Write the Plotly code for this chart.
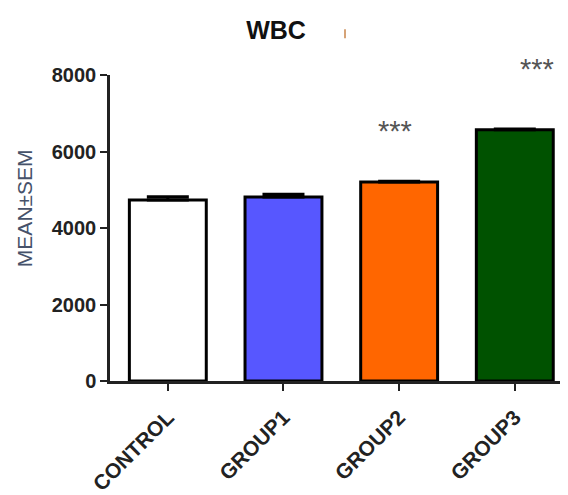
import plotly.graph_objects as go

categories = ["CONTROL", "GROUP1", "GROUP2", "GROUP3"]
means = [4730, 4810, 5200, 6570]
sems = [90, 75, 20, 20]
colors = ["#FFFFFF", "#5757FF", "#FF6600", "#005200"]
sig_labels = ["", "", "***", "***"]
sig_heights = [0, 0, 6545, 8156]
y_ticks = [0, 2000, 4000, 6000, 8000]
y_max = 8000

sig_xshift = [0, 0, -4, 22]

fig = go.Figure()
fig.add_trace(go.Bar(
    x=categories, y=means,
    marker=dict(color=colors, line=dict(color="black", width=3)),
    width=0.665,
    error_y=dict(type="data", symmetric=False, array=sems,
                 arrayminus=[0]*len(sems), color="black", thickness=3, width=21),
    showlegend=False,
))

for c, lab, h, dx in zip(categories, sig_labels, sig_heights, sig_xshift):
    if lab:
        fig.add_annotation(x=c, xref="x", yref="paper", y=h / y_max, text=lab,
                           showarrow=False, xshift=dx,
                           font=dict(size=29, color="#555555", family="Liberation Sans"),
                           yanchor="middle")

# y-axis title (placed as annotation to match its off-centre position)
fig.add_annotation(xref="paper", yref="paper", x=(24-110)/458, y=(383-209)/308,
                   text="MEAN±SEM", textangle=-90, showarrow=False,
                   xanchor="center", yanchor="middle",
                   font=dict(size=21, color="#46526a", family="Liberation Sans"))

# small orange mark next to the title
fig.add_shape(type="line", xref="paper", yref="paper",
              x0=(345-110)/458, x1=(345-110)/458,
              y0=(383-38)/308, y1=(383-29)/308,
              line=dict(color="#C8844A", width=1.5))

fig.update_layout(
    width=568, height=495,
    margin=dict(l=102, r=8, t=67, b=120),
    paper_bgcolor="white", plot_bgcolor="white",
    title=dict(text="<b>WBC</b>", x=(276-8)/568, xanchor="center",
               y=1-(30-8)/495, yanchor="middle",
               font=dict(size=25, color="#111111", family="Liberation Sans")),
)
fig.update_xaxes(
    range=[-0.5, 3.46], showline=True, linecolor="#222222", linewidth=2.5,
    ticks="outside", ticklen=7, tickwidth=2, tickcolor="#222222",
    tickangle=-45, showgrid=False, zeroline=False, ticklabelstandoff=6,
    tickfont=dict(size=21, color="#222222", family="Liberation Sans", weight="bold"),
)
fig.update_yaxes(
    range=[0, y_max], tickvals=y_ticks, showline=True, linecolor="#222222", linewidth=2.5,
    ticks="outside", ticklen=7, tickwidth=2, tickcolor="#222222",
    showgrid=False, zeroline=False,
    tickfont=dict(size=20, color="#222222", family="Liberation Sans", weight="bold"),
)

fig.write_html("out.html")
